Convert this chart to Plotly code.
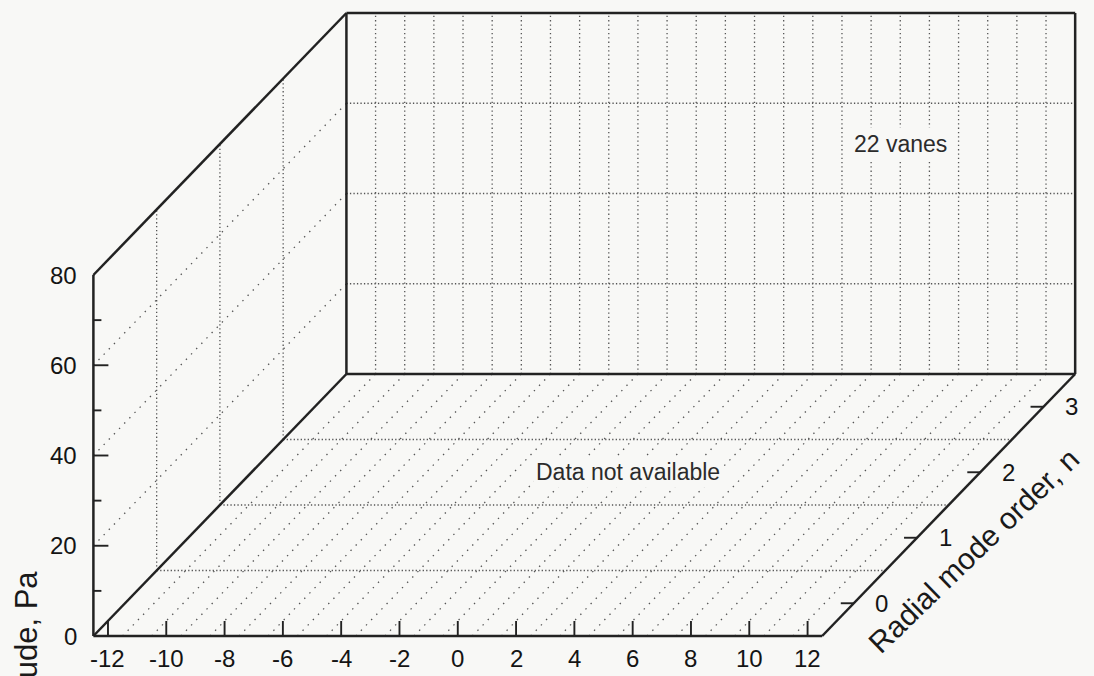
import numpy as np
import plotly.graph_objects as go

# ---- axis content -------------------------------------------------------
m_ticks = [-12, -10, -8, -6, -4, -2, 0, 2, 4, 6, 8, 10, 12]   # circumferential order
n_ticks = [0, 1, 2, 3]                                        # radial order
z_ticks = [0, 20, 40, 60, 80]                                 # amplitude, Pa
z_minor = [10, 30, 50, 70]
m_lim = [-12.5, 12.5]
n_lim = [-0.5, 3.5]
z_lim = [0, 80]
m_grid = list(np.arange(m_lim[0] + 1, m_lim[1], 1.0))        # cell boundaries
n_grid = [0.5, 1.5, 2.5]
z_grid = [20, 40, 60]

z_title = "Amplitude, Pa"
n_title = "Radial mode order, n"
wall_note = "22 vanes"
floor_note = "Data not available"

# ---- oblique projection of the 3-D box onto the page ---------------------
W, H = 1094, 676
PX_M = 29.15      # pixels per unit of m
PX_Z = 4.5125     # pixels per unit of amplitude
DX = 2.170        # m-units shifted per unit of n (depth)
DZ = 14.515       # z-units shifted per unit of n (depth)
X0_PX, Y0_PX = 93.4, 636.0   # page position of the front-left-bottom corner

x_lo = m_lim[0] - X0_PX / PX_M
x_hi = x_lo + W / PX_M
y_lo = -(H - Y0_PX) / PX_Z
y_hi = Y0_PX / PX_Z


def proj(m, n, z):
    d = n - n_lim[0]
    return m + d * DX, z + d * DZ


def segs(pairs):
    xs, ys = [], []
    for a, b in pairs:
        xa, ya = proj(*a)
        xb, yb = proj(*b)
        xs += [xa, xb, None]
        ys += [ya, yb, None]
    return xs, ys


INK = "#222222"
GRID = "#555555"
FONT = "Liberation Sans, Arial, Helvetica, sans-serif"
BG = "#f8f8f6"

fig = go.Figure()


def add(pairs, color, width, dash="solid"):
    xs, ys = segs(pairs)
    fig.add_trace(go.Scatter(x=xs, y=ys, mode="lines", hoverinfo="skip",
                             line=dict(color=color, width=width, dash=dash),
                             showlegend=False))


m0, m1 = m_lim
n0, n1 = n_lim
z0, z1 = z_lim

# dotted grid: back wall
add([((m, n1, z0), (m, n1, z1)) for m in m_grid], GRID, 1.3, "1.3px,3px")
add([((m0, n1, z), (m1, n1, z)) for z in z_grid], GRID, 1.3, "1.3px,2.2px")
# dotted grid: left wall
add([((m0, n, z0), (m0, n, z1)) for n in n_grid], GRID, 1.3, "1.3px,2.6px")
add([((m0, n0, z), (m0, n1, z)) for z in z_grid], GRID, 1.3, "1.4px,6px")
# dotted grid: floor
add([((m, n0, z0), (m, n1, z0)) for m in m_grid], GRID, 1.3, "1.4px,6px")
add([((m0, n, z0), (m1, n, z0)) for n in n_grid], GRID, 1.3, "1.3px,2.2px")

# solid box edges
edges = [
    ((m0, n0, z0), (m1, n0, z0)),   # front floor edge
    ((m0, n0, z0), (m0, n0, z1)),   # amplitude axis
    ((m0, n0, z1), (m0, n1, z1)),   # left wall top
    ((m0, n0, z0), (m0, n1, z0)),   # left floor edge
    ((m1, n0, z0), (m1, n1, z0)),   # radial-order axis
    ((m0, n1, z0), (m1, n1, z0)),   # back wall bottom
    ((m0, n1, z1), (m1, n1, z1)),   # back wall top
    ((m0, n1, z0), (m0, n1, z1)),   # back wall left
    ((m1, n1, z0), (m1, n1, z1)),   # back wall right
]
add(edges, INK, 2.5)

# tick marks
tx, ty = [], []
for m in m_ticks:
    x, y = proj(m, n0, z0)
    tx += [x, x, None]
    ty += [y, y + 15 / PX_Z, None]
for z in z_ticks[1:-1]:
    x, y = proj(m0, n0, z)
    tx += [x, x + 15 / PX_M, None]
    ty += [y, y, None]
for z in z_minor:
    x, y = proj(m0, n0, z)
    tx += [x, x + 8 / PX_M, None]
    ty += [y, y, None]
for n in n_ticks:
    x, y = proj(m1, n, z0)
    tx += [x, x - 13 / PX_M, None]
    ty += [y, y, None]
fig.add_trace(go.Scatter(x=tx, y=ty, mode="lines", hoverinfo="skip",
                         line=dict(color=INK, width=1.9), showlegend=False))

ann = []
lab = dict(family=FONT, size=24, color="#141414")
for m in m_ticks:
    x, y = proj(m, n0, z0)
    ann.append(dict(x=x, y=y, text=str(m), showarrow=False, font=lab,
                    xanchor="center", yanchor="middle", yshift=-22))
for z in z_ticks:
    x, y = proj(m0, n0, z)
    ann.append(dict(x=x, y=y, text=str(z), showarrow=False, font=lab,
                    xanchor="right", yanchor="middle", xshift=-14))
for n in n_ticks:
    x, y = proj(m1, n, z0)
    ann.append(dict(x=x, y=y, text=str(n), showarrow=False, font=lab,
                    xanchor="center", yanchor="middle", xshift=28))

# axis titles
x, y = proj(m1, (n0 + n1) / 2, z0)
ann.append(dict(x=x, y=y, text=n_title, showarrow=False, textangle=-44,
                font=dict(family=FONT, size=30, color="#1a1a1a"),
                xanchor="center", yanchor="middle", xshift=25, yshift=-45))
x, y = proj(m0, n0, z0)
ann.append(dict(x=x, y=y, text=z_title, showarrow=False, textangle=-90,
                font=dict(family=FONT, size=31, color="#1a1a1a"),
                xanchor="center", yanchor="top", xshift=-67, yshift=68))

# notes on the wall and floor
x, y = proj(6.5, n1, 51)
ann.append(dict(x=x, y=y, text=wall_note, showarrow=False,
                font=dict(family=FONT, size=23, color="#2b2b2b"),
                bgcolor=BG, borderpad=3))
x, y = proj(0.4, 2.0, z0)
ann.append(dict(x=x, y=y, text=floor_note, showarrow=False,
                font=dict(family=FONT, size=23, color="#2b2b2b"),
                bgcolor=BG, borderpad=2))

fig.update_layout(
    width=W, height=H,
    margin=dict(l=0, r=0, t=0, b=0),
    paper_bgcolor=BG, plot_bgcolor=BG,
    xaxis=dict(range=[x_lo, x_hi], visible=False, fixedrange=True),
    yaxis=dict(range=[y_lo, y_hi], visible=False, fixedrange=True),
    annotations=ann,
)

fig.write_html("out.html")
